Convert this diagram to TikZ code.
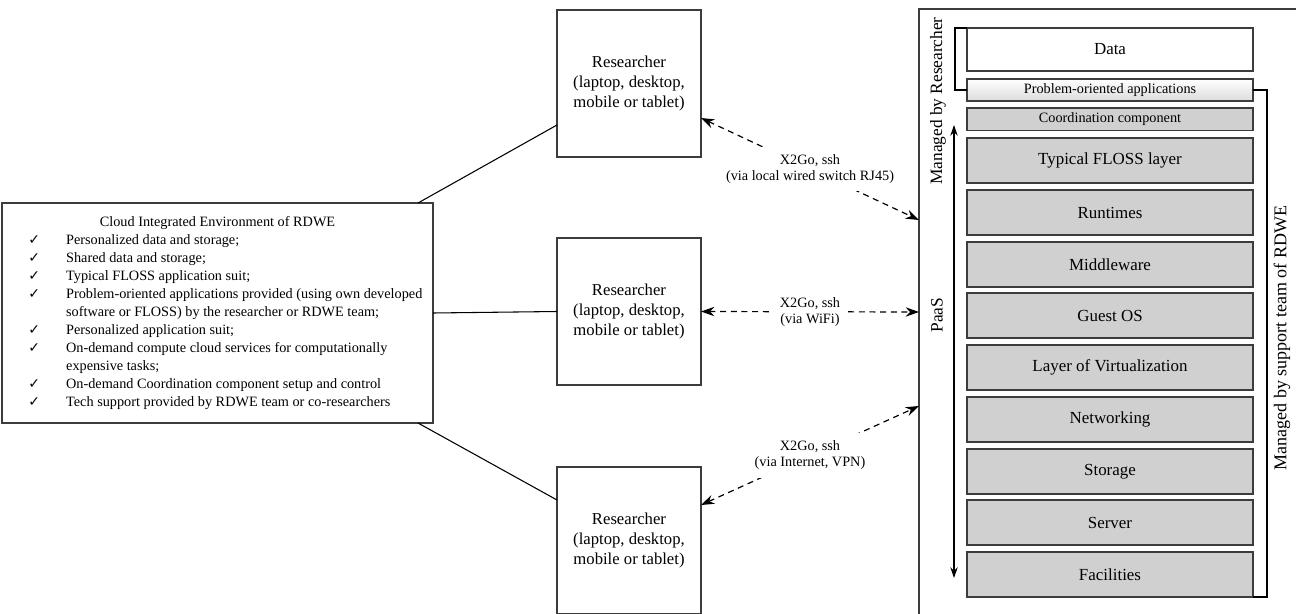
\documentclass[tikz,border=0pt]{standalone}
\usepackage{fontspec}
\setmainfont{Liberation Serif}
\newfontfamily\symfont{DejaVu Sans}
\usepackage{array}
\usepackage{tikz}
\usetikzlibrary{arrows.meta,calc}

\definecolor{layergray}{RGB}{208,208,208}
\definecolor{edgegray}{RGB}{60,60,60}

\newcommand{\tick}{{\symfont\fontsize{10.5}{12}\selectfont ✓}}

\begin{document}
\begin{tikzpicture}[x=0.75pt,y=0.75pt,yscale=-1,xscale=1,
  box/.style={draw=edgegray, line width=1.1pt, anchor=north west, inner sep=0pt, outer sep=0pt},
  layer/.style={box, line width=1.2pt, fill=layergray, minimum width=214.5pt, minimum height=33.75pt, font=\fontsize{12.7}{15}\selectfont},
  thinlayer/.style={layer, minimum height=17pt, font=\fontsize{10.7}{12}\selectfont},
  researcher/.style={box, minimum width=108pt, minimum height=110.25pt, align=center, font=\fontsize{12.5}{15}\selectfont},
  link/.style={dash pattern={on 4.5pt off 3.5pt}, line width=0.9pt, {Stealth[length=10pt,width=7pt]}-{Stealth[length=10pt,width=7pt]}},
  lbl/.style={fill=white, inner xsep=6pt, inner ysep=6pt, align=center, font=\fontsize{10.7}{12}\selectfont},
  side/.style={rotate=90, inner sep=0pt, font=\fontsize{13}{15}\selectfont}
]
\useasboundingbox (0,0) rectangle (1296,614);
\clip (0,0) rectangle (1296,614);

%Shape: Rectangle [id:cloud]
\node (cloud) [box, minimum width=293pt, minimum height=462pt] at (919,9) {};

%Shape: Rectangle [id:cie]
\node (cie) [box, minimum width=323.25pt, minimum height=165pt, font=\fontsize{10.7}{13.5}\selectfont] at (2,203) {%
\begin{tabular}{@{}>{\centering\arraybackslash}p{48pt}@{}p{275pt}@{}}
\multicolumn{2}{c}{Cloud Integrated Environment of RDWE}\\
\tick & Personalized data and storage;\\
\tick & Shared data and storage;\\
\tick & Typical FLOSS application suit;\\
\tick & Problem-oriented applications provided (using own developed\\
      & software or FLOSS) by the researcher or RDWE team;\\
\tick & Personalized application suit;\\
\tick & On-demand compute cloud services for computationally\\
      & expensive tasks;\\
\tick & On-demand Coordination component setup and control\\
\tick & Tech support provided by RDWE team or co-researchers
\end{tabular}};

%Shape: Rectangle [id:r1]
\node (r1) [researcher] at (557,10) {Researcher\\(laptop, desktop,\\mobile or tablet)};
%Shape: Rectangle [id:r2]
\node (r2) [researcher] at (557,238) {Researcher\\(laptop, desktop,\\mobile or tablet)};
%Shape: Rectangle [id:r3]
\node (r3) [researcher] at (557,467) {Researcher\\(laptop, desktop,\\mobile or tablet)};

%Shape: Layers
\node (data) [layer, fill=white, minimum height=32.25pt] at (967,28) {Data};
\node (prob) [thinlayer, top color=white, bottom color=layergray!75, minimum height=16.5pt] at (967,79) {Problem-oriented applications};
\node (coord) [thinlayer] at (967,108) {Coordination component};
\node (floss) [layer] at (967,138) {Typical FLOSS layer};
\node (runtimes) [layer] at (967,190) {Runtimes};
\node (middleware) [layer] at (967,242) {Middleware};
\node (guestos) [layer] at (967,293) {Guest OS};
\node (virt) [layer] at (967,345) {Layer of Virtualization};
\node (network) [layer] at (967,397) {Networking};
\node (storage) [layer] at (967,449) {Storage};
\node (server) [layer] at (967,500) {Server};
\node (facilities) [layer] at (967,552) {Facilities};

% Text Node
\node (byres) [side] at (938,101) {Managed by Researcher};
% Text Node
\node (paas) [side] at (937,315) {PaaS};
% Text Node
\node (bysupport) [side, font=\fontsize{13.5}{15}\selectfont] at (1282,338) {Managed by support team of RDWE};

%Brackets
\draw [line width=0.8pt] (data.north west) -| ($(prob.west)+(-12,0)$) -- (prob.west);
\draw [line width=0.8pt] (prob.east) -- ++(14,0) |- (facilities.south east);

%Vertical arrow
\coordinate (ptop) at (954,125);
\coordinate (pbot) at (954,578);
\draw [line width=0.9pt, {Stealth[length=8pt,width=5.5pt]}-{Stealth[length=8pt,width=5.5pt]}] (ptop) -- (pbot);

% Connection
\draw [line width=0.8pt] ($(cie.north east)+(-15,0)$) -- ($(r1.south west)+(0,-32)$);
\draw [line width=0.8pt] (cie.east) -- (r2.west);
\draw [line width=0.8pt] ($(cie.south east)+(-15,0)$) -- ($(r3.north west)+(0,33)$);

%Dashed links
\coordinate (p1) at (919,220);
\coordinate (p2) at (919,312);
\coordinate (p3) at (919,406);
\draw [link] ($(r1.south east)+(0,-39)$) -- node (l1) [lbl] {X2Go, ssh\\(via local wired switch RJ45)} (p1);
\draw [link] (r2.east) -- node (l2) [lbl] {X2Go, ssh\\(via WiFi)} (p2);
\draw [link] ($(r3.north east)+(0,38)$) -- node (l3) [lbl] {X2Go, ssh\\(via Internet, VPN)} (p3);

\end{tikzpicture}
\end{document}
